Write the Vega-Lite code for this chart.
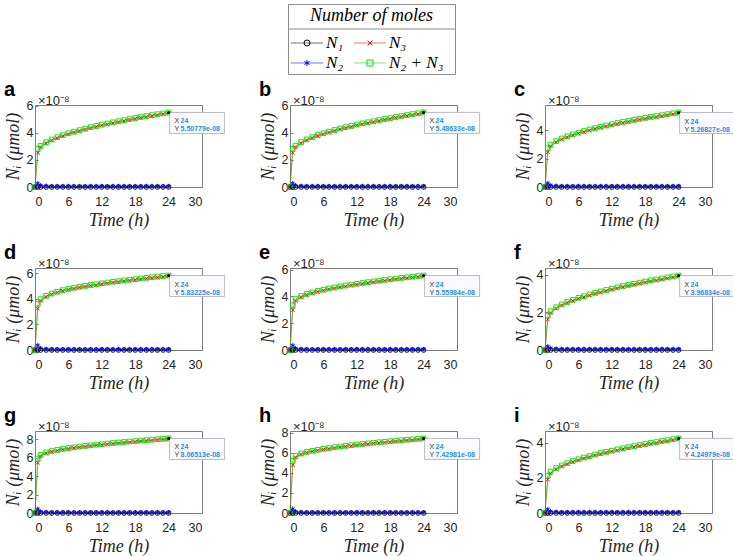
{
  "$schema": "https://vega.github.io/schema/vega-lite/v6.json",
  "description": "Number of moles N1, N2, N3 and N2+N3 over 24 h in nine panels (a-i), with MATLAB-style data tips at t = 24 h.",
  "background": "white",
  "padding": {"left": 3, "top": 3, "right": 0, "bottom": 0},
  "datasets": {
    "curves": [
      {"p":"a","t":0,"n1":0,"n2":0,"n3":0,"n23":0},{"p":"a","t":0.5,"n1":0,"n2":0.28,"n3":2.53,"n23":2.81},{"p":"a","t":1,"n1":0,"n2":0.12,"n3":2.93,"n23":3.05},{"p":"a","t":2,"n1":0,"n2":0.08,"n3":3.23,"n23":3.31},{"p":"a","t":3,"n1":0,"n2":0.06,"n3":3.45,"n23":3.51},{"p":"a","t":4,"n1":0,"n2":0.06,"n3":3.62,"n23":3.68},{"p":"a","t":5,"n1":0,"n2":0.06,"n3":3.77,"n23":3.83},{"p":"a","t":6,"n1":0,"n2":0.06,"n3":3.91,"n23":3.97},{"p":"a","t":7,"n1":0,"n2":0.06,"n3":4.03,"n23":4.09},{"p":"a","t":8,"n1":0,"n2":0.06,"n3":4.14,"n23":4.2},{"p":"a","t":9,"n1":0,"n2":0.06,"n3":4.25,"n23":4.31},{"p":"a","t":10,"n1":0,"n2":0.06,"n3":4.36,"n23":4.42},{"p":"a","t":11,"n1":0,"n2":0.06,"n3":4.45,"n23":4.51},{"p":"a","t":12,"n1":0,"n2":0.06,"n3":4.55,"n23":4.61},{"p":"a","t":13,"n1":0,"n2":0.06,"n3":4.63,"n23":4.69},{"p":"a","t":14,"n1":0,"n2":0.06,"n3":4.72,"n23":4.78},{"p":"a","t":15,"n1":0,"n2":0.06,"n3":4.8,"n23":4.86},{"p":"a","t":16,"n1":0,"n2":0.06,"n3":4.88,"n23":4.94},{"p":"a","t":17,"n1":0,"n2":0.06,"n3":4.96,"n23":5.02},{"p":"a","t":18,"n1":0,"n2":0.06,"n3":5.04,"n23":5.1},{"p":"a","t":19,"n1":0,"n2":0.06,"n3":5.11,"n23":5.17},{"p":"a","t":20,"n1":0,"n2":0.06,"n3":5.18,"n23":5.24},{"p":"a","t":21,"n1":0,"n2":0.06,"n3":5.25,"n23":5.31},{"p":"a","t":22,"n1":0,"n2":0.06,"n3":5.32,"n23":5.38},{"p":"a","t":23,"n1":0,"n2":0.06,"n3":5.38,"n23":5.44},{"p":"a","t":24,"n1":0,"n2":0.06,"n3":5.45,"n23":5.51},
      {"p":"b","t":0,"n1":0,"n2":0,"n3":0,"n23":0},{"p":"b","t":0.5,"n1":0,"n2":0.28,"n3":2.52,"n23":2.8},{"p":"b","t":1,"n1":0,"n2":0.12,"n3":2.92,"n23":3.04},{"p":"b","t":2,"n1":0,"n2":0.08,"n3":3.22,"n23":3.3},{"p":"b","t":3,"n1":0,"n2":0.06,"n3":3.44,"n23":3.5},{"p":"b","t":4,"n1":0,"n2":0.06,"n3":3.61,"n23":3.67},{"p":"b","t":5,"n1":0,"n2":0.06,"n3":3.76,"n23":3.82},{"p":"b","t":6,"n1":0,"n2":0.06,"n3":3.89,"n23":3.95},{"p":"b","t":7,"n1":0,"n2":0.06,"n3":4.01,"n23":4.07},{"p":"b","t":8,"n1":0,"n2":0.06,"n3":4.13,"n23":4.19},{"p":"b","t":9,"n1":0,"n2":0.06,"n3":4.24,"n23":4.3},{"p":"b","t":10,"n1":0,"n2":0.06,"n3":4.34,"n23":4.4},{"p":"b","t":11,"n1":0,"n2":0.06,"n3":4.43,"n23":4.49},{"p":"b","t":12,"n1":0,"n2":0.06,"n3":4.53,"n23":4.59},{"p":"b","t":13,"n1":0,"n2":0.06,"n3":4.62,"n23":4.68},{"p":"b","t":14,"n1":0,"n2":0.06,"n3":4.7,"n23":4.76},{"p":"b","t":15,"n1":0,"n2":0.06,"n3":4.78,"n23":4.84},{"p":"b","t":16,"n1":0,"n2":0.06,"n3":4.86,"n23":4.92},{"p":"b","t":17,"n1":0,"n2":0.06,"n3":4.94,"n23":5},{"p":"b","t":18,"n1":0,"n2":0.06,"n3":5.01,"n23":5.07},{"p":"b","t":19,"n1":0,"n2":0.06,"n3":5.09,"n23":5.15},{"p":"b","t":20,"n1":0,"n2":0.06,"n3":5.16,"n23":5.22},{"p":"b","t":21,"n1":0,"n2":0.06,"n3":5.23,"n23":5.29},{"p":"b","t":22,"n1":0,"n2":0.06,"n3":5.3,"n23":5.36},{"p":"b","t":23,"n1":0,"n2":0.06,"n3":5.36,"n23":5.42},{"p":"b","t":24,"n1":0,"n2":0.06,"n3":5.43,"n23":5.49},
      {"p":"c","t":0,"n1":0,"n2":0,"n3":0,"n23":0},{"p":"c","t":0.5,"n1":0,"n2":0.28,"n3":2.46,"n23":2.74},{"p":"c","t":1,"n1":0,"n2":0.12,"n3":2.88,"n23":3},{"p":"c","t":2,"n1":0,"n2":0.08,"n3":3.17,"n23":3.25},{"p":"c","t":3,"n1":0,"n2":0.06,"n3":3.37,"n23":3.43},{"p":"c","t":4,"n1":0,"n2":0.06,"n3":3.53,"n23":3.59},{"p":"c","t":5,"n1":0,"n2":0.06,"n3":3.66,"n23":3.72},{"p":"c","t":6,"n1":0,"n2":0.06,"n3":3.79,"n23":3.85},{"p":"c","t":7,"n1":0,"n2":0.06,"n3":3.9,"n23":3.96},{"p":"c","t":8,"n1":0,"n2":0.06,"n3":4.01,"n23":4.07},{"p":"c","t":9,"n1":0,"n2":0.06,"n3":4.11,"n23":4.17},{"p":"c","t":10,"n1":0,"n2":0.06,"n3":4.2,"n23":4.26},{"p":"c","t":11,"n1":0,"n2":0.06,"n3":4.29,"n23":4.35},{"p":"c","t":12,"n1":0,"n2":0.06,"n3":4.38,"n23":4.44},{"p":"c","t":13,"n1":0,"n2":0.06,"n3":4.46,"n23":4.52},{"p":"c","t":14,"n1":0,"n2":0.06,"n3":4.54,"n23":4.6},{"p":"c","t":15,"n1":0,"n2":0.06,"n3":4.61,"n23":4.67},{"p":"c","t":16,"n1":0,"n2":0.06,"n3":4.69,"n23":4.75},{"p":"c","t":17,"n1":0,"n2":0.06,"n3":4.76,"n23":4.82},{"p":"c","t":18,"n1":0,"n2":0.06,"n3":4.83,"n23":4.89},{"p":"c","t":19,"n1":0,"n2":0.06,"n3":4.9,"n23":4.96},{"p":"c","t":20,"n1":0,"n2":0.06,"n3":4.96,"n23":5.02},{"p":"c","t":21,"n1":0,"n2":0.06,"n3":5.02,"n23":5.08},{"p":"c","t":22,"n1":0,"n2":0.06,"n3":5.09,"n23":5.15},{"p":"c","t":23,"n1":0,"n2":0.06,"n3":5.15,"n23":5.21},{"p":"c","t":24,"n1":0,"n2":0.06,"n3":5.21,"n23":5.27},
      {"p":"d","t":0,"n1":0,"n2":0,"n3":0,"n23":0},{"p":"d","t":0.5,"n1":0,"n2":0.38,"n3":3.24,"n23":3.62},{"p":"d","t":1,"n1":0,"n2":0.14,"n3":3.84,"n23":3.98},{"p":"d","t":2,"n1":0,"n2":0.08,"n3":4.16,"n23":4.24},{"p":"d","t":3,"n1":0,"n2":0.06,"n3":4.36,"n23":4.42},{"p":"d","t":4,"n1":0,"n2":0.06,"n3":4.5,"n23":4.56},{"p":"d","t":5,"n1":0,"n2":0.06,"n3":4.63,"n23":4.69},{"p":"d","t":6,"n1":0,"n2":0.06,"n3":4.72,"n23":4.78},{"p":"d","t":7,"n1":0,"n2":0.06,"n3":4.81,"n23":4.87},{"p":"d","t":8,"n1":0,"n2":0.06,"n3":4.89,"n23":4.95},{"p":"d","t":9,"n1":0,"n2":0.06,"n3":4.96,"n23":5.02},{"p":"d","t":10,"n1":0,"n2":0.06,"n3":5.03,"n23":5.09},{"p":"d","t":11,"n1":0,"n2":0.06,"n3":5.09,"n23":5.15},{"p":"d","t":12,"n1":0,"n2":0.06,"n3":5.16,"n23":5.22},{"p":"d","t":13,"n1":0,"n2":0.06,"n3":5.22,"n23":5.28},{"p":"d","t":14,"n1":0,"n2":0.06,"n3":5.28,"n23":5.34},{"p":"d","t":15,"n1":0,"n2":0.06,"n3":5.33,"n23":5.39},{"p":"d","t":16,"n1":0,"n2":0.06,"n3":5.39,"n23":5.45},{"p":"d","t":17,"n1":0,"n2":0.06,"n3":5.44,"n23":5.5},{"p":"d","t":18,"n1":0,"n2":0.06,"n3":5.49,"n23":5.55},{"p":"d","t":19,"n1":0,"n2":0.06,"n3":5.54,"n23":5.6},{"p":"d","t":20,"n1":0,"n2":0.06,"n3":5.59,"n23":5.65},{"p":"d","t":21,"n1":0,"n2":0.06,"n3":5.64,"n23":5.7},{"p":"d","t":22,"n1":0,"n2":0.06,"n3":5.68,"n23":5.74},{"p":"d","t":23,"n1":0,"n2":0.06,"n3":5.73,"n23":5.79},{"p":"d","t":24,"n1":0,"n2":0.06,"n3":5.77,"n23":5.83},
      {"p":"e","t":0,"n1":0,"n2":0,"n3":0,"n23":0},{"p":"e","t":0.5,"n1":0,"n2":0.35,"n3":2.99,"n23":3.34},{"p":"e","t":1,"n1":0,"n2":0.13,"n3":3.67,"n23":3.8},{"p":"e","t":2,"n1":0,"n2":0.08,"n3":3.95,"n23":4.03},{"p":"e","t":3,"n1":0,"n2":0.06,"n3":4.12,"n23":4.18},{"p":"e","t":4,"n1":0,"n2":0.06,"n3":4.24,"n23":4.3},{"p":"e","t":5,"n1":0,"n2":0.06,"n3":4.35,"n23":4.41},{"p":"e","t":6,"n1":0,"n2":0.06,"n3":4.44,"n23":4.5},{"p":"e","t":7,"n1":0,"n2":0.06,"n3":4.53,"n23":4.59},{"p":"e","t":8,"n1":0,"n2":0.06,"n3":4.61,"n23":4.67},{"p":"e","t":9,"n1":0,"n2":0.06,"n3":4.68,"n23":4.74},{"p":"e","t":10,"n1":0,"n2":0.06,"n3":4.75,"n23":4.81},{"p":"e","t":11,"n1":0,"n2":0.06,"n3":4.82,"n23":4.88},{"p":"e","t":12,"n1":0,"n2":0.06,"n3":4.88,"n23":4.94},{"p":"e","t":13,"n1":0,"n2":0.06,"n3":4.94,"n23":5},{"p":"e","t":14,"n1":0,"n2":0.06,"n3":5,"n23":5.06},{"p":"e","t":15,"n1":0,"n2":0.06,"n3":5.06,"n23":5.12},{"p":"e","t":16,"n1":0,"n2":0.06,"n3":5.11,"n23":5.17},{"p":"e","t":17,"n1":0,"n2":0.06,"n3":5.17,"n23":5.23},{"p":"e","t":18,"n1":0,"n2":0.06,"n3":5.22,"n23":5.28},{"p":"e","t":19,"n1":0,"n2":0.06,"n3":5.27,"n23":5.33},{"p":"e","t":20,"n1":0,"n2":0.06,"n3":5.32,"n23":5.38},{"p":"e","t":21,"n1":0,"n2":0.06,"n3":5.36,"n23":5.42},{"p":"e","t":22,"n1":0,"n2":0.06,"n3":5.41,"n23":5.47},{"p":"e","t":23,"n1":0,"n2":0.06,"n3":5.46,"n23":5.52},{"p":"e","t":24,"n1":0,"n2":0.06,"n3":5.5,"n23":5.56},
      {"p":"f","t":0,"n1":0,"n2":0,"n3":0,"n23":0},{"p":"f","t":0.5,"n1":0,"n2":0.2,"n3":1.63,"n23":1.83},{"p":"f","t":1,"n1":0,"n2":0.1,"n3":1.97,"n23":2.07},{"p":"f","t":2,"n1":0,"n2":0.07,"n3":2.21,"n23":2.28},{"p":"f","t":3,"n1":0,"n2":0.05,"n3":2.38,"n23":2.43},{"p":"f","t":4,"n1":0,"n2":0.05,"n3":2.51,"n23":2.56},{"p":"f","t":5,"n1":0,"n2":0.05,"n3":2.62,"n23":2.67},{"p":"f","t":6,"n1":0,"n2":0.05,"n3":2.73,"n23":2.78},{"p":"f","t":7,"n1":0,"n2":0.05,"n3":2.82,"n23":2.87},{"p":"f","t":8,"n1":0,"n2":0.05,"n3":2.91,"n23":2.96},{"p":"f","t":9,"n1":0,"n2":0.05,"n3":3,"n23":3.05},{"p":"f","t":10,"n1":0,"n2":0.05,"n3":3.07,"n23":3.12},{"p":"f","t":11,"n1":0,"n2":0.05,"n3":3.15,"n23":3.2},{"p":"f","t":12,"n1":0,"n2":0.05,"n3":3.22,"n23":3.27},{"p":"f","t":13,"n1":0,"n2":0.05,"n3":3.29,"n23":3.34},{"p":"f","t":14,"n1":0,"n2":0.05,"n3":3.36,"n23":3.41},{"p":"f","t":15,"n1":0,"n2":0.05,"n3":3.42,"n23":3.47},{"p":"f","t":16,"n1":0,"n2":0.05,"n3":3.48,"n23":3.53},{"p":"f","t":17,"n1":0,"n2":0.05,"n3":3.54,"n23":3.59},{"p":"f","t":18,"n1":0,"n2":0.05,"n3":3.6,"n23":3.65},{"p":"f","t":19,"n1":0,"n2":0.05,"n3":3.66,"n23":3.71},{"p":"f","t":20,"n1":0,"n2":0.05,"n3":3.71,"n23":3.76},{"p":"f","t":21,"n1":0,"n2":0.05,"n3":3.76,"n23":3.81},{"p":"f","t":22,"n1":0,"n2":0.05,"n3":3.82,"n23":3.87},{"p":"f","t":23,"n1":0,"n2":0.05,"n3":3.87,"n23":3.92},{"p":"f","t":24,"n1":0,"n2":0.05,"n3":3.92,"n23":3.97},
      {"p":"g","t":0,"n1":0,"n2":0,"n3":0,"n23":0},{"p":"g","t":0.5,"n1":0,"n2":0.45,"n3":5.44,"n23":5.89},{"p":"g","t":1,"n1":0,"n2":0.15,"n3":6.15,"n23":6.3},{"p":"g","t":2,"n1":0,"n2":0.09,"n3":6.46,"n23":6.55},{"p":"g","t":3,"n1":0,"n2":0.07,"n3":6.63,"n23":6.7},{"p":"g","t":4,"n1":0,"n2":0.07,"n3":6.75,"n23":6.82},{"p":"g","t":5,"n1":0,"n2":0.07,"n3":6.86,"n23":6.93},{"p":"g","t":6,"n1":0,"n2":0.07,"n3":6.95,"n23":7.02},{"p":"g","t":7,"n1":0,"n2":0.07,"n3":7.03,"n23":7.1},{"p":"g","t":8,"n1":0,"n2":0.07,"n3":7.11,"n23":7.18},{"p":"g","t":9,"n1":0,"n2":0.07,"n3":7.18,"n23":7.25},{"p":"g","t":10,"n1":0,"n2":0.07,"n3":7.25,"n23":7.32},{"p":"g","t":11,"n1":0,"n2":0.07,"n3":7.32,"n23":7.39},{"p":"g","t":12,"n1":0,"n2":0.07,"n3":7.38,"n23":7.45},{"p":"g","t":13,"n1":0,"n2":0.07,"n3":7.44,"n23":7.51},{"p":"g","t":14,"n1":0,"n2":0.07,"n3":7.5,"n23":7.57},{"p":"g","t":15,"n1":0,"n2":0.07,"n3":7.56,"n23":7.63},{"p":"g","t":16,"n1":0,"n2":0.07,"n3":7.61,"n23":7.68},{"p":"g","t":17,"n1":0,"n2":0.07,"n3":7.66,"n23":7.73},{"p":"g","t":18,"n1":0,"n2":0.07,"n3":7.71,"n23":7.78},{"p":"g","t":19,"n1":0,"n2":0.07,"n3":7.76,"n23":7.83},{"p":"g","t":20,"n1":0,"n2":0.07,"n3":7.81,"n23":7.88},{"p":"g","t":21,"n1":0,"n2":0.07,"n3":7.86,"n23":7.93},{"p":"g","t":22,"n1":0,"n2":0.07,"n3":7.91,"n23":7.98},{"p":"g","t":23,"n1":0,"n2":0.07,"n3":7.95,"n23":8.02},{"p":"g","t":24,"n1":0,"n2":0.07,"n3":8,"n23":8.07},
      {"p":"h","t":0,"n1":0,"n2":0,"n3":0,"n23":0},{"p":"h","t":0.5,"n1":0,"n2":0.42,"n3":4.78,"n23":5.2},{"p":"h","t":1,"n1":0,"n2":0.15,"n3":5.53,"n23":5.68},{"p":"h","t":2,"n1":0,"n2":0.09,"n3":5.84,"n23":5.93},{"p":"h","t":3,"n1":0,"n2":0.07,"n3":6.01,"n23":6.08},{"p":"h","t":4,"n1":0,"n2":0.07,"n3":6.13,"n23":6.2},{"p":"h","t":5,"n1":0,"n2":0.07,"n3":6.23,"n23":6.3},{"p":"h","t":6,"n1":0,"n2":0.07,"n3":6.32,"n23":6.39},{"p":"h","t":7,"n1":0,"n2":0.07,"n3":6.4,"n23":6.47},{"p":"h","t":8,"n1":0,"n2":0.07,"n3":6.48,"n23":6.55},{"p":"h","t":9,"n1":0,"n2":0.07,"n3":6.55,"n23":6.62},{"p":"h","t":10,"n1":0,"n2":0.07,"n3":6.62,"n23":6.69},{"p":"h","t":11,"n1":0,"n2":0.07,"n3":6.69,"n23":6.76},{"p":"h","t":12,"n1":0,"n2":0.07,"n3":6.75,"n23":6.82},{"p":"h","t":13,"n1":0,"n2":0.07,"n3":6.81,"n23":6.88},{"p":"h","t":14,"n1":0,"n2":0.07,"n3":6.87,"n23":6.94},{"p":"h","t":15,"n1":0,"n2":0.07,"n3":6.93,"n23":7},{"p":"h","t":16,"n1":0,"n2":0.07,"n3":6.98,"n23":7.05},{"p":"h","t":17,"n1":0,"n2":0.07,"n3":7.03,"n23":7.1},{"p":"h","t":18,"n1":0,"n2":0.07,"n3":7.08,"n23":7.15},{"p":"h","t":19,"n1":0,"n2":0.07,"n3":7.13,"n23":7.2},{"p":"h","t":20,"n1":0,"n2":0.07,"n3":7.18,"n23":7.25},{"p":"h","t":21,"n1":0,"n2":0.07,"n3":7.23,"n23":7.3},{"p":"h","t":22,"n1":0,"n2":0.07,"n3":7.27,"n23":7.34},{"p":"h","t":23,"n1":0,"n2":0.07,"n3":7.32,"n23":7.39},{"p":"h","t":24,"n1":0,"n2":0.07,"n3":7.36,"n23":7.43},
      {"p":"i","t":0,"n1":0,"n2":0,"n3":0,"n23":0},{"p":"i","t":0.5,"n1":0,"n2":0.22,"n3":1.91,"n23":2.13},{"p":"i","t":1,"n1":0,"n2":0.1,"n3":2.26,"n23":2.36},{"p":"i","t":2,"n1":0,"n2":0.07,"n3":2.49,"n23":2.56},{"p":"i","t":3,"n1":0,"n2":0.05,"n3":2.66,"n23":2.71},{"p":"i","t":4,"n1":0,"n2":0.05,"n3":2.79,"n23":2.84},{"p":"i","t":5,"n1":0,"n2":0.05,"n3":2.91,"n23":2.96},{"p":"i","t":6,"n1":0,"n2":0.05,"n3":3.01,"n23":3.06},{"p":"i","t":7,"n1":0,"n2":0.05,"n3":3.11,"n23":3.16},{"p":"i","t":8,"n1":0,"n2":0.05,"n3":3.19,"n23":3.24},{"p":"i","t":9,"n1":0,"n2":0.05,"n3":3.28,"n23":3.33},{"p":"i","t":10,"n1":0,"n2":0.05,"n3":3.36,"n23":3.41},{"p":"i","t":11,"n1":0,"n2":0.05,"n3":3.43,"n23":3.48},{"p":"i","t":12,"n1":0,"n2":0.05,"n3":3.5,"n23":3.55},{"p":"i","t":13,"n1":0,"n2":0.05,"n3":3.57,"n23":3.62},{"p":"i","t":14,"n1":0,"n2":0.05,"n3":3.64,"n23":3.69},{"p":"i","t":15,"n1":0,"n2":0.05,"n3":3.7,"n23":3.75},{"p":"i","t":16,"n1":0,"n2":0.05,"n3":3.76,"n23":3.81},{"p":"i","t":17,"n1":0,"n2":0.05,"n3":3.82,"n23":3.87},{"p":"i","t":18,"n1":0,"n2":0.05,"n3":3.88,"n23":3.93},{"p":"i","t":19,"n1":0,"n2":0.05,"n3":3.94,"n23":3.99},{"p":"i","t":20,"n1":0,"n2":0.05,"n3":3.99,"n23":4.04},{"p":"i","t":21,"n1":0,"n2":0.05,"n3":4.05,"n23":4.1},{"p":"i","t":22,"n1":0,"n2":0.05,"n3":4.1,"n23":4.15},{"p":"i","t":23,"n1":0,"n2":0.05,"n3":4.15,"n23":4.2},{"p":"i","t":24,"n1":0,"n2":0.05,"n3":4.2,"n23":4.25}
    ],
    "tips": [
      {"p":"a","t":24,"v":5.50779,"lab":"5.50779e-08"},
      {"p":"b","t":24,"v":5.48633,"lab":"5.48633e-08"},
      {"p":"c","t":24,"v":5.26827,"lab":"5.26827e-08"},
      {"p":"d","t":24,"v":5.83225,"lab":"5.83225e-08"},
      {"p":"e","t":24,"v":5.55984,"lab":"5.55984e-08"},
      {"p":"f","t":24,"v":3.96834,"lab":"3.96834e-08"},
      {"p":"g","t":24,"v":8.06513,"lab":"8.06513e-08"},
      {"p":"h","t":24,"v":7.42981,"lab":"7.42981e-08"},
      {"p":"i","t":24,"v":4.24979,"lab":"4.24979e-08"}
    ],
    "legend": [
      {"s":"n1","lab":"N₁","col":"c1","row":"r1"},
      {"s":"n3","lab":"N₃","col":"c2","row":"r1"},
      {"s":"n2","lab":"N₂","col":"c1","row":"r2"},
      {"s":"n23","lab":"N₂ + N₃","col":"c2","row":"r2"}
    ]
  },
  "spacing": 4,
  "vconcat": [
    {
      "spacing": 0,
      "hconcat": [
        {
          "width": 252, "height": 70,
          "view": {"stroke": null, "fill": "#ffffff"},
          "data": {"values": [{}]},
          "mark": {"type": "text", "text": ""}
        },
        {
          "width": 167, "height": 70,
          "view": {"stroke": "#8c8c8c", "strokeWidth": 1},
          "encoding": {
            "y": {"field": "row", "type": "ordinal", "axis": null,
                  "scale": {"type": "point", "domain": ["title", "r1", "r2"], "padding": 0.75, "align": 0.633}}
          },
          "layer": [
            {
              "data": {"values": [{"row": "title", "lab": "Number of moles"}]},
              "layer": [
                {"mark": {"type": "text", "dy": -7, "font": "Liberation Serif", "fontStyle": "italic", "fontSize": 18, "color": "#000000"},
                 "encoding": {"text": {"field": "lab"}}},
                {"mark": {"type": "rule", "yOffset": 6, "color": "#8c8c8c", "strokeWidth": 1}}
              ]
            },
            {
              "data": {"name": "legend"},
              "encoding": {
                "x": {"field": "col", "type": "ordinal", "axis": null,
                      "scale": {"type": "point", "domain": ["c1", "c2"], "padding": 0.8254, "align": 0.1827}}
              },
              "layer": [
                {"mark": {"type": "point", "shape": "M-1,0L1,0", "size": 1024, "strokeWidth": 1, "opacity": 1, "strokeOpacity": 0.55},
                 "encoding": {"stroke": {"field": "s", "type": "nominal"}}},
                {"mark": {"type": "point", "size": 36, "strokeWidth": 1, "opacity": 1},
                 "encoding": {"stroke": {"field": "s", "type": "nominal"}, "shape": {"field": "s", "type": "nominal"}}},
                {"mark": {"type": "text", "align": "left", "dx": 19, "font": "Liberation Serif", "fontStyle": "italic", "fontSize": 17, "color": "#000000"},
                 "encoding": {"text": {"field": "lab"}}}
              ]
            }
          ]
        }
      ]
    },
    {
      "columns": 3,
      "bounds": "flush",
      "spacing": {"row": 81, "column": 88},
      "concat": [
        {"width":167,"height":82,"title":"a",
         "encoding":{"x":{"field":"t","type":"quantitative","scale":{"domain":[0,30],"nice":false},"axis":{"values":[0,6,12,18,24,30],"title":"Time (h)"}},
                     "y":{"field":"v","type":"quantitative","scale":{"domain":[0,6.06],"nice":false},"axis":{"values":[0,2,4,6],"title":"Nᵢ (μmol)"}}},
         "layer":[
          {"data":{"name":"curves"},"transform":[{"filter":"datum.p == 'a'"},{"fold":["n1","n2","n3","n23"],"as":["s","v"]}],
           "encoding":{"stroke":{"field":"s","type":"nominal"}},
           "layer":[{"mark":{"type":"line","strokeWidth":1,"strokeOpacity":0.55}},
                    {"mark":{"type":"point","size":22,"strokeWidth":0.9,"opacity":1},"encoding":{"shape":{"field":"s","type":"nominal"}}}]},
          {"data":{"name":"tips"},"transform":[{"filter":"datum.p == 'a'"}],
           "layer":[
            {"mark":{"type":"point","shape":"M0.1,0H5.6V2.1H0.1Z","size":400,"filled":true,"fill":"#fafafd","stroke":"#a9a9b8","strokeWidth":0.8,"opacity":1}},
            {"mark":{"type":"point","shape":"circle","filled":true,"size":10,"color":"#000000","opacity":1}},
            {"mark":{"type":"text","text":"X","align":"left","dx":6,"dy":9,"fontSize":7,"color":"#333333"}},
            {"mark":{"type":"text","align":"left","dx":12,"dy":9,"fontSize":7,"fontWeight":"bold","color":"#1f8fe8"},"encoding":{"text":{"field":"t"}}},
            {"mark":{"type":"text","text":"Y","align":"left","dx":6,"dy":17,"fontSize":7,"color":"#333333"}},
            {"mark":{"type":"text","align":"left","dx":12,"dy":17,"fontSize":7,"fontWeight":"bold","color":"#1f8fe8"},"encoding":{"text":{"field":"lab"}}},
            {"mark":{"type":"text","text":"×10⁻⁸","align":"left","baseline":"bottom","dx":3,"dy":3,"fontSize":13,"color":"#262626"},
             "encoding":{"x":{"datum":0},"y":{"datum":6.06}}}]}
         ]},
        {"width":167,"height":82,"title":"b",
         "encoding":{"x":{"field":"t","type":"quantitative","scale":{"domain":[0,30],"nice":false},"axis":{"values":[0,6,12,18,24,30],"title":"Time (h)"}},
                     "y":{"field":"v","type":"quantitative","scale":{"domain":[0,6.03],"nice":false},"axis":{"values":[0,2,4,6],"title":"Nᵢ (μmol)"}}},
         "layer":[
          {"data":{"name":"curves"},"transform":[{"filter":"datum.p == 'b'"},{"fold":["n1","n2","n3","n23"],"as":["s","v"]}],
           "encoding":{"stroke":{"field":"s","type":"nominal"}},
           "layer":[{"mark":{"type":"line","strokeWidth":1,"strokeOpacity":0.55}},
                    {"mark":{"type":"point","size":22,"strokeWidth":0.9,"opacity":1},"encoding":{"shape":{"field":"s","type":"nominal"}}}]},
          {"data":{"name":"tips"},"transform":[{"filter":"datum.p == 'b'"}],
           "layer":[
            {"mark":{"type":"point","shape":"M0.1,0H5.6V2.1H0.1Z","size":400,"filled":true,"fill":"#fafafd","stroke":"#a9a9b8","strokeWidth":0.8,"opacity":1}},
            {"mark":{"type":"point","shape":"circle","filled":true,"size":10,"color":"#000000","opacity":1}},
            {"mark":{"type":"text","text":"X","align":"left","dx":6,"dy":9,"fontSize":7,"color":"#333333"}},
            {"mark":{"type":"text","align":"left","dx":12,"dy":9,"fontSize":7,"fontWeight":"bold","color":"#1f8fe8"},"encoding":{"text":{"field":"t"}}},
            {"mark":{"type":"text","text":"Y","align":"left","dx":6,"dy":17,"fontSize":7,"color":"#333333"}},
            {"mark":{"type":"text","align":"left","dx":12,"dy":17,"fontSize":7,"fontWeight":"bold","color":"#1f8fe8"},"encoding":{"text":{"field":"lab"}}},
            {"mark":{"type":"text","text":"×10⁻⁸","align":"left","baseline":"bottom","dx":3,"dy":3,"fontSize":13,"color":"#262626"},
             "encoding":{"x":{"datum":0},"y":{"datum":6.03}}}]}
         ]},
        {"width":167,"height":82,"title":"c",
         "encoding":{"x":{"field":"t","type":"quantitative","scale":{"domain":[0,30],"nice":false},"axis":{"values":[0,6,12,18,24,30],"title":"Time (h)"}},
                     "y":{"field":"v","type":"quantitative","scale":{"domain":[0,5.8],"nice":false},"axis":{"values":[0,2,4],"title":"Nᵢ (μmol)"}}},
         "layer":[
          {"data":{"name":"curves"},"transform":[{"filter":"datum.p == 'c'"},{"fold":["n1","n2","n3","n23"],"as":["s","v"]}],
           "encoding":{"stroke":{"field":"s","type":"nominal"}},
           "layer":[{"mark":{"type":"line","strokeWidth":1,"strokeOpacity":0.55}},
                    {"mark":{"type":"point","size":22,"strokeWidth":0.9,"opacity":1},"encoding":{"shape":{"field":"s","type":"nominal"}}}]},
          {"data":{"name":"tips"},"transform":[{"filter":"datum.p == 'c'"}],
           "layer":[
            {"mark":{"type":"point","shape":"M0.1,0H5.6V2.1H0.1Z","size":400,"filled":true,"fill":"#fafafd","stroke":"#a9a9b8","strokeWidth":0.8,"opacity":1}},
            {"mark":{"type":"point","shape":"circle","filled":true,"size":10,"color":"#000000","opacity":1}},
            {"mark":{"type":"text","text":"X","align":"left","dx":6,"dy":9,"fontSize":7,"color":"#333333"}},
            {"mark":{"type":"text","align":"left","dx":12,"dy":9,"fontSize":7,"fontWeight":"bold","color":"#1f8fe8"},"encoding":{"text":{"field":"t"}}},
            {"mark":{"type":"text","text":"Y","align":"left","dx":6,"dy":17,"fontSize":7,"color":"#333333"}},
            {"mark":{"type":"text","align":"left","dx":12,"dy":17,"fontSize":7,"fontWeight":"bold","color":"#1f8fe8"},"encoding":{"text":{"field":"lab"}}},
            {"mark":{"type":"text","text":"×10⁻⁸","align":"left","baseline":"bottom","dx":3,"dy":3,"fontSize":13,"color":"#262626"},
             "encoding":{"x":{"datum":0},"y":{"datum":5.8}}}]}
         ]},
        {"width":167,"height":82,"title":"d",
         "encoding":{"x":{"field":"t","type":"quantitative","scale":{"domain":[0,30],"nice":false},"axis":{"values":[0,6,12,18,24,30],"title":"Time (h)"}},
                     "y":{"field":"v","type":"quantitative","scale":{"domain":[0,6.42],"nice":false},"axis":{"values":[0,2,4,6],"title":"Nᵢ (μmol)"}}},
         "layer":[
          {"data":{"name":"curves"},"transform":[{"filter":"datum.p == 'd'"},{"fold":["n1","n2","n3","n23"],"as":["s","v"]}],
           "encoding":{"stroke":{"field":"s","type":"nominal"}},
           "layer":[{"mark":{"type":"line","strokeWidth":1,"strokeOpacity":0.55}},
                    {"mark":{"type":"point","size":22,"strokeWidth":0.9,"opacity":1},"encoding":{"shape":{"field":"s","type":"nominal"}}}]},
          {"data":{"name":"tips"},"transform":[{"filter":"datum.p == 'd'"}],
           "layer":[
            {"mark":{"type":"point","shape":"M0.1,0H5.6V2.1H0.1Z","size":400,"filled":true,"fill":"#fafafd","stroke":"#a9a9b8","strokeWidth":0.8,"opacity":1}},
            {"mark":{"type":"point","shape":"circle","filled":true,"size":10,"color":"#000000","opacity":1}},
            {"mark":{"type":"text","text":"X","align":"left","dx":6,"dy":9,"fontSize":7,"color":"#333333"}},
            {"mark":{"type":"text","align":"left","dx":12,"dy":9,"fontSize":7,"fontWeight":"bold","color":"#1f8fe8"},"encoding":{"text":{"field":"t"}}},
            {"mark":{"type":"text","text":"Y","align":"left","dx":6,"dy":17,"fontSize":7,"color":"#333333"}},
            {"mark":{"type":"text","align":"left","dx":12,"dy":17,"fontSize":7,"fontWeight":"bold","color":"#1f8fe8"},"encoding":{"text":{"field":"lab"}}},
            {"mark":{"type":"text","text":"×10⁻⁸","align":"left","baseline":"bottom","dx":3,"dy":3,"fontSize":13,"color":"#262626"},
             "encoding":{"x":{"datum":0},"y":{"datum":6.42}}}]}
         ]},
        {"width":167,"height":82,"title":"e",
         "encoding":{"x":{"field":"t","type":"quantitative","scale":{"domain":[0,30],"nice":false},"axis":{"values":[0,6,12,18,24,30],"title":"Time (h)"}},
                     "y":{"field":"v","type":"quantitative","scale":{"domain":[0,6.12],"nice":false},"axis":{"values":[0,2,4,6],"title":"Nᵢ (μmol)"}}},
         "layer":[
          {"data":{"name":"curves"},"transform":[{"filter":"datum.p == 'e'"},{"fold":["n1","n2","n3","n23"],"as":["s","v"]}],
           "encoding":{"stroke":{"field":"s","type":"nominal"}},
           "layer":[{"mark":{"type":"line","strokeWidth":1,"strokeOpacity":0.55}},
                    {"mark":{"type":"point","size":22,"strokeWidth":0.9,"opacity":1},"encoding":{"shape":{"field":"s","type":"nominal"}}}]},
          {"data":{"name":"tips"},"transform":[{"filter":"datum.p == 'e'"}],
           "layer":[
            {"mark":{"type":"point","shape":"M0.1,0H5.6V2.1H0.1Z","size":400,"filled":true,"fill":"#fafafd","stroke":"#a9a9b8","strokeWidth":0.8,"opacity":1}},
            {"mark":{"type":"point","shape":"circle","filled":true,"size":10,"color":"#000000","opacity":1}},
            {"mark":{"type":"text","text":"X","align":"left","dx":6,"dy":9,"fontSize":7,"color":"#333333"}},
            {"mark":{"type":"text","align":"left","dx":12,"dy":9,"fontSize":7,"fontWeight":"bold","color":"#1f8fe8"},"encoding":{"text":{"field":"t"}}},
            {"mark":{"type":"text","text":"Y","align":"left","dx":6,"dy":17,"fontSize":7,"color":"#333333"}},
            {"mark":{"type":"text","align":"left","dx":12,"dy":17,"fontSize":7,"fontWeight":"bold","color":"#1f8fe8"},"encoding":{"text":{"field":"lab"}}},
            {"mark":{"type":"text","text":"×10⁻⁸","align":"left","baseline":"bottom","dx":3,"dy":3,"fontSize":13,"color":"#262626"},
             "encoding":{"x":{"datum":0},"y":{"datum":6.12}}}]}
         ]},
        {"width":167,"height":82,"title":"f",
         "encoding":{"x":{"field":"t","type":"quantitative","scale":{"domain":[0,30],"nice":false},"axis":{"values":[0,6,12,18,24,30],"title":"Time (h)"}},
                     "y":{"field":"v","type":"quantitative","scale":{"domain":[0,4.37],"nice":false},"axis":{"values":[0,2,4],"title":"Nᵢ (μmol)"}}},
         "layer":[
          {"data":{"name":"curves"},"transform":[{"filter":"datum.p == 'f'"},{"fold":["n1","n2","n3","n23"],"as":["s","v"]}],
           "encoding":{"stroke":{"field":"s","type":"nominal"}},
           "layer":[{"mark":{"type":"line","strokeWidth":1,"strokeOpacity":0.55}},
                    {"mark":{"type":"point","size":22,"strokeWidth":0.9,"opacity":1},"encoding":{"shape":{"field":"s","type":"nominal"}}}]},
          {"data":{"name":"tips"},"transform":[{"filter":"datum.p == 'f'"}],
           "layer":[
            {"mark":{"type":"point","shape":"M0.1,0H5.6V2.1H0.1Z","size":400,"filled":true,"fill":"#fafafd","stroke":"#a9a9b8","strokeWidth":0.8,"opacity":1}},
            {"mark":{"type":"point","shape":"circle","filled":true,"size":10,"color":"#000000","opacity":1}},
            {"mark":{"type":"text","text":"X","align":"left","dx":6,"dy":9,"fontSize":7,"color":"#333333"}},
            {"mark":{"type":"text","align":"left","dx":12,"dy":9,"fontSize":7,"fontWeight":"bold","color":"#1f8fe8"},"encoding":{"text":{"field":"t"}}},
            {"mark":{"type":"text","text":"Y","align":"left","dx":6,"dy":17,"fontSize":7,"color":"#333333"}},
            {"mark":{"type":"text","align":"left","dx":12,"dy":17,"fontSize":7,"fontWeight":"bold","color":"#1f8fe8"},"encoding":{"text":{"field":"lab"}}},
            {"mark":{"type":"text","text":"×10⁻⁸","align":"left","baseline":"bottom","dx":3,"dy":3,"fontSize":13,"color":"#262626"},
             "encoding":{"x":{"datum":0},"y":{"datum":4.37}}}]}
         ]},
        {"width":167,"height":82,"title":"g",
         "encoding":{"x":{"field":"t","type":"quantitative","scale":{"domain":[0,30],"nice":false},"axis":{"values":[0,6,12,18,24,30],"title":"Time (h)"}},
                     "y":{"field":"v","type":"quantitative","scale":{"domain":[0,8.87],"nice":false},"axis":{"values":[0,2,4,6,8],"title":"Nᵢ (μmol)"}}},
         "layer":[
          {"data":{"name":"curves"},"transform":[{"filter":"datum.p == 'g'"},{"fold":["n1","n2","n3","n23"],"as":["s","v"]}],
           "encoding":{"stroke":{"field":"s","type":"nominal"}},
           "layer":[{"mark":{"type":"line","strokeWidth":1,"strokeOpacity":0.55}},
                    {"mark":{"type":"point","size":22,"strokeWidth":0.9,"opacity":1},"encoding":{"shape":{"field":"s","type":"nominal"}}}]},
          {"data":{"name":"tips"},"transform":[{"filter":"datum.p == 'g'"}],
           "layer":[
            {"mark":{"type":"point","shape":"M0.1,0H5.6V2.1H0.1Z","size":400,"filled":true,"fill":"#fafafd","stroke":"#a9a9b8","strokeWidth":0.8,"opacity":1}},
            {"mark":{"type":"point","shape":"circle","filled":true,"size":10,"color":"#000000","opacity":1}},
            {"mark":{"type":"text","text":"X","align":"left","dx":6,"dy":9,"fontSize":7,"color":"#333333"}},
            {"mark":{"type":"text","align":"left","dx":12,"dy":9,"fontSize":7,"fontWeight":"bold","color":"#1f8fe8"},"encoding":{"text":{"field":"t"}}},
            {"mark":{"type":"text","text":"Y","align":"left","dx":6,"dy":17,"fontSize":7,"color":"#333333"}},
            {"mark":{"type":"text","align":"left","dx":12,"dy":17,"fontSize":7,"fontWeight":"bold","color":"#1f8fe8"},"encoding":{"text":{"field":"lab"}}},
            {"mark":{"type":"text","text":"×10⁻⁸","align":"left","baseline":"bottom","dx":3,"dy":3,"fontSize":13,"color":"#262626"},
             "encoding":{"x":{"datum":0},"y":{"datum":8.87}}}]}
         ]},
        {"width":167,"height":82,"title":"h",
         "encoding":{"x":{"field":"t","type":"quantitative","scale":{"domain":[0,30],"nice":false},"axis":{"values":[0,6,12,18,24,30],"title":"Time (h)"}},
                     "y":{"field":"v","type":"quantitative","scale":{"domain":[0,8.17],"nice":false},"axis":{"values":[0,2,4,6,8],"title":"Nᵢ (μmol)"}}},
         "layer":[
          {"data":{"name":"curves"},"transform":[{"filter":"datum.p == 'h'"},{"fold":["n1","n2","n3","n23"],"as":["s","v"]}],
           "encoding":{"stroke":{"field":"s","type":"nominal"}},
           "layer":[{"mark":{"type":"line","strokeWidth":1,"strokeOpacity":0.55}},
                    {"mark":{"type":"point","size":22,"strokeWidth":0.9,"opacity":1},"encoding":{"shape":{"field":"s","type":"nominal"}}}]},
          {"data":{"name":"tips"},"transform":[{"filter":"datum.p == 'h'"}],
           "layer":[
            {"mark":{"type":"point","shape":"M0.1,0H5.6V2.1H0.1Z","size":400,"filled":true,"fill":"#fafafd","stroke":"#a9a9b8","strokeWidth":0.8,"opacity":1}},
            {"mark":{"type":"point","shape":"circle","filled":true,"size":10,"color":"#000000","opacity":1}},
            {"mark":{"type":"text","text":"X","align":"left","dx":6,"dy":9,"fontSize":7,"color":"#333333"}},
            {"mark":{"type":"text","align":"left","dx":12,"dy":9,"fontSize":7,"fontWeight":"bold","color":"#1f8fe8"},"encoding":{"text":{"field":"t"}}},
            {"mark":{"type":"text","text":"Y","align":"left","dx":6,"dy":17,"fontSize":7,"color":"#333333"}},
            {"mark":{"type":"text","align":"left","dx":12,"dy":17,"fontSize":7,"fontWeight":"bold","color":"#1f8fe8"},"encoding":{"text":{"field":"lab"}}},
            {"mark":{"type":"text","text":"×10⁻⁸","align":"left","baseline":"bottom","dx":3,"dy":3,"fontSize":13,"color":"#262626"},
             "encoding":{"x":{"datum":0},"y":{"datum":8.17}}}]}
         ]},
        {"width":167,"height":82,"title":"i",
         "encoding":{"x":{"field":"t","type":"quantitative","scale":{"domain":[0,30],"nice":false},"axis":{"values":[0,6,12,18,24,30],"title":"Time (h)"}},
                     "y":{"field":"v","type":"quantitative","scale":{"domain":[0,4.67],"nice":false},"axis":{"values":[0,2,4],"title":"Nᵢ (μmol)"}}},
         "layer":[
          {"data":{"name":"curves"},"transform":[{"filter":"datum.p == 'i'"},{"fold":["n1","n2","n3","n23"],"as":["s","v"]}],
           "encoding":{"stroke":{"field":"s","type":"nominal"}},
           "layer":[{"mark":{"type":"line","strokeWidth":1,"strokeOpacity":0.55}},
                    {"mark":{"type":"point","size":22,"strokeWidth":0.9,"opacity":1},"encoding":{"shape":{"field":"s","type":"nominal"}}}]},
          {"data":{"name":"tips"},"transform":[{"filter":"datum.p == 'i'"}],
           "layer":[
            {"mark":{"type":"point","shape":"M0.1,0H5.6V2.1H0.1Z","size":400,"filled":true,"fill":"#fafafd","stroke":"#a9a9b8","strokeWidth":0.8,"opacity":1}},
            {"mark":{"type":"point","shape":"circle","filled":true,"size":10,"color":"#000000","opacity":1}},
            {"mark":{"type":"text","text":"X","align":"left","dx":6,"dy":9,"fontSize":7,"color":"#333333"}},
            {"mark":{"type":"text","align":"left","dx":12,"dy":9,"fontSize":7,"fontWeight":"bold","color":"#1f8fe8"},"encoding":{"text":{"field":"t"}}},
            {"mark":{"type":"text","text":"Y","align":"left","dx":6,"dy":17,"fontSize":7,"color":"#333333"}},
            {"mark":{"type":"text","align":"left","dx":12,"dy":17,"fontSize":7,"fontWeight":"bold","color":"#1f8fe8"},"encoding":{"text":{"field":"lab"}}},
            {"mark":{"type":"text","text":"×10⁻⁸","align":"left","baseline":"bottom","dx":3,"dy":3,"fontSize":13,"color":"#262626"},
             "encoding":{"x":{"datum":0},"y":{"datum":4.67}}}]}
         ]}
      ]
    }
  ],
  "config": {
    "view": {"stroke": "#7f7f7f"},
    "axis": {
      "grid": false,
      "domainColor": "#7f7f7f",
      "tickColor": "#7f7f7f",
      "tickSize": -3,
      "labelFont": "Liberation Sans",
      "labelFontSize": 12.5,
      "labelColor": "#262626",
      "titleFont": "Liberation Serif",
      "titleFontStyle": "italic",
      "titleFontWeight": "normal",
      "titleFontSize": 18,
      "titleColor": "#262626"
    },
    "axisX": {"labelPadding": 11, "titlePadding": 4},
    "axisY": {"labelPadding": 5, "titlePadding": 4},
    "title": {"anchor": "start", "frame": "group", "dx": -31, "dy": 9, "offset": 0, "baseline": "alphabetic",
              "font": "Liberation Sans", "fontSize": 20, "fontWeight": "bold", "color": "#000000"},
    "legend": {"disable": true},
    "text": {"font": "Liberation Sans"},
    "range": {
      "category": ["#000000", "#0000ff", "#00e000", "#ff0000"],
      "symbol": ["circle", "M0,-1L0,1M-0.87,-0.5L0.87,0.5M-0.87,0.5L0.87,-0.5", "square", "M-0.8,-0.8L0.8,0.8M-0.8,0.8L0.8,-0.8"]
    }
  }
}
